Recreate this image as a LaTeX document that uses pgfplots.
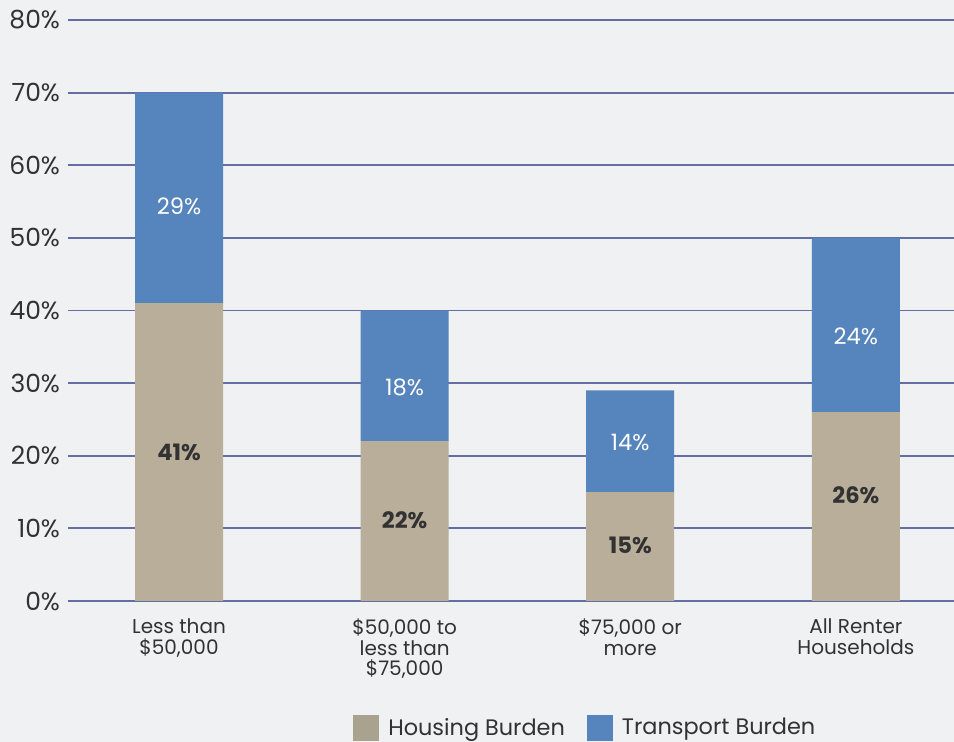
\documentclass[border=0pt]{standalone}
\usepackage{pgfplots}
\pgfplotsset{compat=1.18}
\usepackage{fontspec}
\setmainfont{Poppins}
\definecolor{bgcol}{RGB}{239,241,243}
\definecolor{gridcol}{RGB}{100,110,162}
\definecolor{tan}{RGB}{184,174,154}
\definecolor{tanleg}{RGB}{168,162,142}
\definecolor{blu}{RGB}{86,132,188}
\definecolor{txt}{RGB}{50,50,50}
\begin{document}
\begin{tikzpicture}
\fill[bgcol] (-34pt,-70.5pt) rectangle (443pt,300.5pt);
\begin{axis}[
  ybar stacked,
  scale only axis,
  width=443pt, height=290.5pt,
  bar width=44pt,
  xmin=-0.492, xmax=3.435,
  ymin=0, ymax=80,
  xtick={0,1,2,3},
  xticklabels={{Less than\\\$50,000},{\$50,000 to\\less than\\\$75,000},{\$75,000 or\\more},{All Renter\\Households}},
  xticklabel style={align=center, font=\fontsize{10}{10.2}\selectfont, text=txt, yshift=-5.5pt},
  ytick={0,10,...,80},
  yticklabel={\pgfmathprintnumber{\tick}\%},
  yticklabel style={font=\fontsize{12.5}{14}\selectfont, text=txt, xshift=-0.5pt},
  /pgf/number format/assume math mode=true,
  ymajorgrids,
  grid style={gridcol, line width=0.9pt},
  axis line style={draw=none},
  tick style={draw=none},
  legend style={draw=none, fill=none, at={(0.585,-0.2186)}, anchor=center,
    legend columns=2, font=\fontsize{11.2}{13}\selectfont, text=txt,
    /tikz/every odd column/.append style={column sep=2.5pt},
    /tikz/every even column/.append style={column sep=9pt}},
  legend cell align=left,
]
\addplot[fill=tan, draw=none, area legend,
  legend image code/.code={\fill[tanleg] (0pt,-6.5pt) rectangle (13pt,6.5pt);}]
  coordinates {(0,41) (1,22) (2,15) (3,26)};
\addlegendentry{Housing Burden}
\addplot[fill=blu, draw=none, area legend,
  legend image code/.code={\fill[blu] (0pt,-6.5pt) rectangle (13pt,6.5pt);}]
  coordinates {(0,29) (1,18) (2,14) (3,24)};
\addlegendentry{Transport Burden}
\end{axis}
\begin{axis}[
  scale only axis,
  width=443pt, height=290.5pt,
  xmin=-0.492, xmax=3.435,
  ymin=0, ymax=80,
  hide axis,
]
\addplot[only marks, mark=none, nodes near coords, point meta=explicit symbolic,
  every node near coord/.append style={anchor=center, text=txt, font=\fontsize{11.3}{13}\selectfont\bfseries}]
  table[meta=lab] {
x y lab
0 20.5 41\%
1 11.1 22\%
2 7.6 15\%
3 14.5 26\%
};
\addplot[only marks, mark=none, nodes near coords, point meta=explicit symbolic,
  every node near coord/.append style={anchor=center, text=white, font=\fontsize{11.3}{13}\selectfont}]
  table[meta=lab] {
x y lab
0 54.3 29\%
1 29.4 18\%
2 21.8 14\%
3 36.5 24\%
};
\end{axis}
\pgfresetboundingbox
\path[use as bounding box] (-34pt,-70.5pt) rectangle (443pt,300.5pt);
\end{tikzpicture}
\end{document}
